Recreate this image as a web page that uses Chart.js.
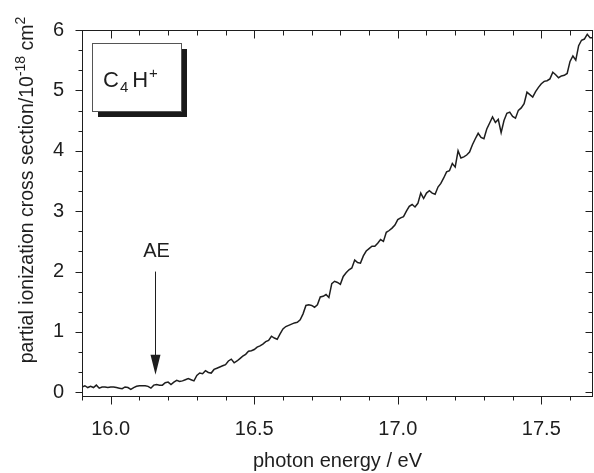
<!DOCTYPE html>
<html>
<head>
<meta charset="utf-8">
<script src="https://cdn.jsdelivr.net/npm/chart.js@4"></script>
<style>
  html, body { margin: 0; padding: 0; background: #fff; }
  canvas { display: block; }
</style>
</head>
<body>
<canvas id="chart" width="594" height="473"></canvas>
<script>
// photon energy (eV)
const energies = [
  15.90, 15.91, 15.92, 15.93, 15.94, 15.95, 15.96, 15.97, 15.98, 15.99,
  16.00, 16.01, 16.02, 16.03, 16.04, 16.05, 16.06, 16.07, 16.08, 16.09,
  16.10, 16.11, 16.12, 16.13, 16.14, 16.15, 16.16, 16.17, 16.18, 16.19,
  16.20, 16.21, 16.22, 16.23, 16.24, 16.25, 16.26, 16.27, 16.28, 16.29,
  16.30, 16.31, 16.32, 16.33, 16.34, 16.35, 16.36, 16.37, 16.38, 16.39,
  16.40, 16.41, 16.42, 16.43, 16.44, 16.45, 16.46, 16.47, 16.48, 16.49,
  16.50, 16.51, 16.52, 16.53, 16.54, 16.55, 16.56, 16.57, 16.58, 16.59,
  16.60, 16.61, 16.62, 16.63, 16.64, 16.65, 16.66, 16.67, 16.68, 16.69,
  16.70, 16.71, 16.72, 16.73, 16.74, 16.75, 16.76, 16.77, 16.78, 16.79,
  16.80, 16.81, 16.82, 16.83, 16.84, 16.85, 16.86, 16.87, 16.88, 16.89,
  16.90, 16.91, 16.92, 16.93, 16.94, 16.95, 16.96, 16.97, 16.98, 16.99,
  17.00, 17.01, 17.02, 17.03, 17.04, 17.05, 17.06, 17.07, 17.08, 17.09,
  17.10, 17.11, 17.12, 17.13, 17.14, 17.15, 17.16, 17.17, 17.18, 17.19,
  17.20, 17.21, 17.22, 17.23, 17.24, 17.25, 17.26, 17.27, 17.28, 17.29,
  17.30, 17.31, 17.32, 17.33, 17.34, 17.35, 17.36, 17.37, 17.38, 17.39,
  17.40, 17.41, 17.42, 17.43, 17.44, 17.45, 17.46, 17.47, 17.48, 17.49,
  17.50, 17.51, 17.52, 17.53, 17.54, 17.55, 17.56, 17.57, 17.58, 17.59,
  17.60, 17.61, 17.62, 17.63, 17.64, 17.65, 17.66, 17.67, 17.68
];

// partial ionization cross section C4H+ (1e-18 cm2)
const crossSection = [
  0.09, 0.11, 0.08, 0.10, 0.08, 0.12, 0.07, 0.09, 0.09, 0.08,
  0.09, 0.09, 0.08, 0.07, 0.06, 0.09, 0.08, 0.05, 0.08, 0.10,
  0.11, 0.11, 0.11, 0.10, 0.07, 0.12, 0.13, 0.12, 0.12, 0.16,
  0.17, 0.13, 0.17, 0.20, 0.18, 0.19, 0.21, 0.23, 0.21, 0.19,
  0.28, 0.32, 0.31, 0.36, 0.33, 0.32, 0.38, 0.40, 0.42, 0.44,
  0.46, 0.52, 0.55, 0.49, 0.52, 0.56, 0.60, 0.63, 0.68, 0.69,
  0.71, 0.75, 0.77, 0.80, 0.84, 0.86, 0.93, 0.90, 0.88, 0.97,
  1.05, 1.09, 1.11, 1.13, 1.15, 1.16, 1.20, 1.30, 1.44, 1.45,
  1.44, 1.41, 1.45, 1.58, 1.59, 1.62, 1.57, 1.80, 1.84, 1.82,
  1.79, 1.92, 1.98, 2.03, 2.06, 2.19, 2.15, 2.14, 2.26, 2.34,
  2.38, 2.42, 2.42, 2.47, 2.53, 2.50, 2.65, 2.68, 2.72, 2.77,
  2.86, 2.89, 2.91, 3.00, 3.08, 3.11, 3.07, 3.13, 3.30, 3.21,
  3.30, 3.34, 3.30, 3.28, 3.40, 3.46, 3.55, 3.65, 3.67, 3.79,
  3.73, 4.00, 3.88, 3.90, 3.93, 3.98, 4.10, 4.20, 4.29, 4.22,
  4.20, 4.36, 4.46, 4.56, 4.47, 4.52, 4.30, 4.50, 4.62, 4.64,
  4.57, 4.54, 4.67, 4.71, 4.78, 4.97, 4.93, 4.89, 4.98, 5.05,
  5.11, 5.15, 5.16, 5.19, 5.30, 5.26, 5.21, 5.24, 5.25, 5.28,
  5.48, 5.57, 5.50, 5.74, 5.83, 5.85, 5.93, 5.87, 5.87
];

const xTicks = [16.0, 16.5, 17.0, 17.5];
const yTicks = [0, 1, 2, 3, 4, 5, 6];

// appearance energy marker
const aeEnergy = 16.155;
const aeArrowTop = 2.0;
const aeArrowTip = 0.29;

const FONT = '"Liberation Sans", Arial, Helvetica, sans-serif';
const INK = '#1e1e1e';

const decorations = {
    id: 'decorations',
    afterDraw(chart) {
        const ctx = chart.ctx;
        const area = chart.chartArea;
        const xs = chart.scales.x;
        const ys = chart.scales.y;
        const L = Math.round(area.left) + 0.5;
        const R = Math.round(area.right) - 0.5;
        const T = Math.round(area.top) + 0.5;
        const B = Math.round(area.bottom) + 0.5;

        ctx.save();
        ctx.strokeStyle = INK;
        ctx.lineWidth = 1;
        ctx.strokeRect(L, T, R - L, B - T);

        // x ticks every 0.1, long ones at 0.5
        ctx.beginPath();
        for (let i = 159; i <= 176; i++) {
            const px = Math.round(xs.getPixelForValue(i / 10)) + 0.5;
            const major = i % 5 === 0;
            ctx.moveTo(px, B);
            ctx.lineTo(px, B + (major ? 8 : 4));
            ctx.moveTo(px, T);
            ctx.lineTo(px, T + (major ? 8 : 5));
        }
        // y ticks every 1/3, long ones at integers
        for (let k = 0; k <= 18; k++) {
            const py = Math.round(ys.getPixelForValue(k / 3)) + 0.5;
            const major = k % 3 === 0;
            ctx.moveTo(L, py);
            ctx.lineTo(L - (major ? 7 : 4), py);
            ctx.moveTo(R, py);
            ctx.lineTo(R - (major ? 7 : 4), py);
        }
        ctx.stroke();

        // y axis title with superscripts
        ctx.fillStyle = INK;
        ctx.textBaseline = 'alphabetic';
        ctx.textAlign = 'left';
        const parts = [
            { t: 'partial ionization cross section/10', size: 19.5, rise: 0 },
            { t: '-18', size: 14, rise: 8 },
            { t: ' cm', size: 19.5, rise: 0 },
            { t: '2', size: 14, rise: 8 }
        ];
        let total = 0;
        parts.forEach(p => {
            ctx.font = p.size + 'px ' + FONT;
            p.w = ctx.measureText(p.t).width;
            total += p.w;
        });
        ctx.save();
        ctx.translate(33, 190);
        ctx.rotate(-Math.PI / 2);
        let cx = -total / 2;
        parts.forEach(p => {
            ctx.font = p.size + 'px ' + FONT;
            ctx.fillText(p.t, cx, -p.rise);
            cx += p.w;
        });
        ctx.restore();

        // species label box with drop shadow
        const bx = Math.round(area.left) + 10, by = Math.round(area.top) + 13;
        const bw = 89, bh = 68;
        ctx.fillStyle = '#1a1a1a';
        ctx.fillRect(bx + 6, by + 6, bw, bh);
        ctx.fillStyle = '#fff';
        ctx.fillRect(bx, by, bw, bh);
        ctx.strokeStyle = '#555';
        ctx.strokeRect(bx + 0.5, by + 0.5, bw, bh);
        ctx.fillStyle = INK;
        ctx.font = '22px ' + FONT;
        const base = by + 44;
        let tx = bx + 11;
        ctx.fillText('C', tx, base);
        tx += ctx.measureText('C').width + 1;
        ctx.font = '15px ' + FONT;
        ctx.fillText('4', tx, base + 5);
        tx += ctx.measureText('4').width + 4;
        ctx.font = '22px ' + FONT;
        ctx.fillText('H', tx, base);
        tx += ctx.measureText('H').width + 1;
        ctx.font = '15px ' + FONT;
        ctx.fillText('+', tx, base - 9);

        // AE arrow
        const ax = Math.round(xs.getPixelForValue(aeEnergy)) + 0.5;
        const aTop = ys.getPixelForValue(aeArrowTop);
        const aTip = ys.getPixelForValue(aeArrowTip);
        ctx.strokeStyle = INK;
        ctx.beginPath();
        ctx.moveTo(ax, aTop);
        ctx.lineTo(ax, aTip - 18);
        ctx.stroke();
        ctx.beginPath();
        ctx.moveTo(ax - 5, aTip - 20);
        ctx.lineTo(ax + 5, aTip - 20);
        ctx.lineTo(ax, aTip);
        ctx.closePath();
        ctx.fill();
        ctx.font = '20px ' + FONT;
        ctx.textAlign = 'center';
        ctx.fillText('AE', ax + 1, aTop - 15);
        ctx.restore();
    }
};

const points = energies.map((e, i) => ({ x: e, y: crossSection[i] }));

new Chart(document.getElementById('chart').getContext('2d'), {
    type: 'line',
    data: {
        datasets: [{
            data: points,
            borderColor: INK,
            borderWidth: 1.5,
            pointRadius: 0,
            tension: 0,
            fill: false
        }]
    },
    options: {
        responsive: false,
        animation: false,
        devicePixelRatio: 1,
        layout: { padding: { top: 16, right: 1, left: 0, bottom: 0 } },
        plugins: {
            legend: { display: false },
            tooltip: { enabled: false }
        },
        scales: {
            x: {
                type: 'linear',
                min: 15.9,
                max: 17.68,
                afterBuildTicks: s => { s.ticks = xTicks.map(v => ({ value: v })); },
                afterFit: s => { s.height = 77; },
                grid: { display: false, drawTicks: false },
                border: { display: false },
                ticks: {
                    padding: 21,
                    color: INK,
                    font: { family: FONT, size: 20 },
                    callback: v => v.toFixed(1),
                    maxRotation: 0
                },
                title: {
                    display: true,
                    text: 'photon energy / eV',
                    color: INK,
                    font: { family: FONT, size: 20 },
                    padding: { top: 4, bottom: 0 }
                }
            },
            y: {
                min: -0.06,
                max: 6,
                afterBuildTicks: s => { s.ticks = yTicks.map(v => ({ value: v })); },
                afterFit: s => { s.width = 82; },
                grid: { display: false, drawTicks: false },
                border: { display: false },
                ticks: {
                    padding: 18,
                    color: INK,
                    font: { family: FONT, size: 20 },
                    callback: v => String(v)
                }
            }
        }
    },
    plugins: [decorations]
});
</script>
</body>
</html>
